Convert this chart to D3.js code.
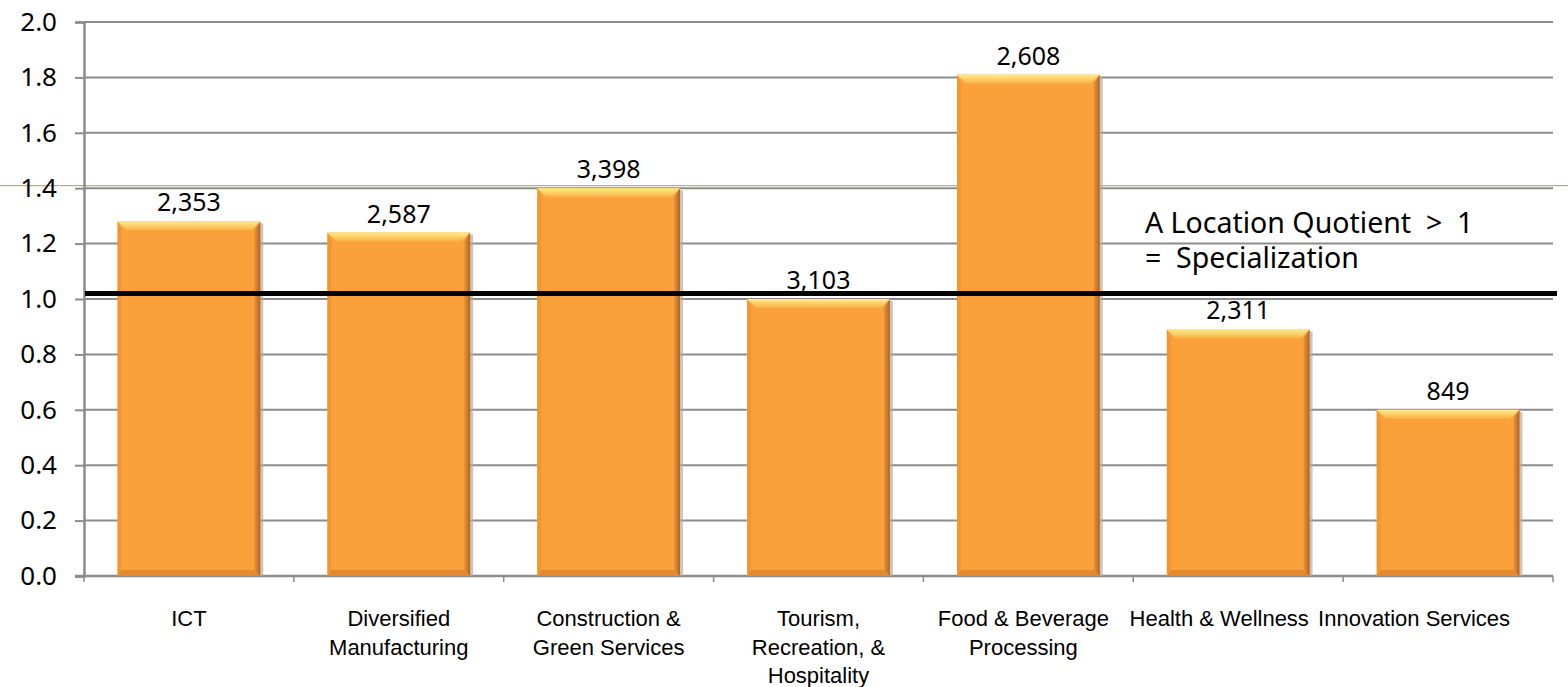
<!DOCTYPE html>
<html>
<head>
<meta charset="utf-8">
<script src="https://cdn.jsdelivr.net/npm/d3@7"></script>
<style>
  html, body { margin: 0; padding: 0; background: #fff; }
  svg { display: block; }
</style>
</head>
<body>
<svg id="canvas" width="1568" height="687"></svg>
<script>
"use strict";

const categories = [
  ["ICT"],
  ["Diversified", "Manufacturing"],
  ["Construction &", "Green Services"],
  ["Tourism,", "Recreation, &", "Hospitality"],
  ["Food & Beverage", "Processing"],
  ["Health & Wellness"],
  ["Innovation Services"]
];
const locationQuotient = [1.28, 1.24, 1.40, 1.00, 1.81, 0.89, 0.60];
const employment = [2353, 2587, 3398, 3103, 2608, 2311, 849];
const yTicks = [0, 0.2, 0.4, 0.6, 0.8, 1.0, 1.2, 1.4, 1.6, 1.8, 2.0];
const threshold = 1.02;
const noteLines = ["A Location Quotient  >  1", "=  Specialization"];

const width = 1568;
const margin = { top: 22, right: 15, bottom: 111, left: 84 };
const plotBottom = 687 - margin.bottom;
const plotRight = width - margin.right;

const svg = d3.select("#canvas");
const defs = svg.append("defs");

const topGrad = defs.append("linearGradient")
  .attr("id", "topBevel").attr("x1", 0).attr("y1", 0).attr("x2", 0).attr("y2", 1);
topGrad.append("stop").attr("offset", "0%").attr("stop-color", "#ffec8c");
topGrad.append("stop").attr("offset", "100%").attr("stop-color", "#fbb043");

const rightGrad = defs.append("linearGradient")
  .attr("id", "rightBevel").attr("x1", 0).attr("y1", 0).attr("x2", 1).attr("y2", 0);
rightGrad.append("stop").attr("offset", "0%").attr("stop-color", "#ee9433");
rightGrad.append("stop").attr("offset", "100%").attr("stop-color", "#a9662a");

const x = d3.scaleBand()
  .domain(d3.range(categories.length))
  .range([margin.left, plotRight])
  .paddingInner(0.32)
  .paddingOuter(0.16);

const y = d3.scaleLinear()
  .domain([0, 2])
  .range([plotBottom, margin.top]);

// gridlines
svg.append("g")
  .selectAll("line")
  .data(yTicks.filter((t) => t > 0))
  .join("line")
  .attr("x1", margin.left)
  .attr("x2", plotRight)
  .attr("y1", (t) => y(t))
  .attr("y2", (t) => y(t))
  .attr("stroke", "#8c8c8c")
  .attr("stroke-width", 2);

// thin olive rule across the page
svg.append("line")
  .attr("x1", 0).attr("x2", width)
  .attr("y1", y(1.4) - 2.5).attr("y2", y(1.4) - 2.5)
  .attr("stroke", "#a99b6c")
  .attr("stroke-width", 1);

// y axis
const yAxis = svg.append("g")
  .attr("transform", `translate(${margin.left},0)`)
  .call(d3.axisLeft(y).tickValues(yTicks).tickFormat(d3.format(".1f")).tickSize(9).tickPadding(18));
yAxis.select(".domain").attr("stroke", "#8c8c8c").attr("stroke-width", 2.5);
yAxis.selectAll(".tick line").attr("stroke", "#8c8c8c").attr("stroke-width", 2);
yAxis.selectAll(".tick text")
  .attr("fill", "#000")
  .style("font-family", "'Noto Sans', sans-serif")
  .style("font-size", "26px");

// x axis line and ticks at band boundaries
const step = x.step();
const bounds = d3.range(categories.length + 1).map((i) => margin.left + i * step);
svg.append("line")
  .attr("x1", margin.left - 9).attr("x2", plotRight)
  .attr("y1", plotBottom).attr("y2", plotBottom)
  .attr("stroke", "#8c8c8c").attr("stroke-width", 2.5);
svg.append("g")
  .selectAll("line")
  .data(bounds)
  .join("line")
  .attr("x1", (d) => d).attr("x2", (d) => d)
  .attr("y1", plotBottom).attr("y2", plotBottom + 6)
  .attr("stroke", "#8c8c8c").attr("stroke-width", 1.5);

// bars
const bw = x.bandwidth();
const bev = 9;
const side = 6;
const bars = svg.append("g")
  .selectAll("g")
  .data(locationQuotient)
  .join("g")
  .attr("transform", (d, i) => `translate(${x(i)},${y(d)})`);

bars.append("rect")
  .attr("x", 3).attr("y", 2)
  .attr("width", bw).attr("height", (d) => plotBottom - y(d) - 2)
  .attr("fill", "#b9ab9b").attr("opacity", 0.7);

bars.append("rect")
  .attr("width", bw)
  .attr("height", (d) => plotBottom - y(d))
  .attr("fill", "#faa13c");

bars.append("polygon")
  .attr("points", (d) => {
    const h = plotBottom - y(d);
    return `0,0 ${side - 2},${bev} ${side - 2},${h - side} 0,${h}`;
  })
  .attr("fill", "#f4962f");

bars.append("polygon")
  .attr("points", (d) => {
    const h = plotBottom - y(d);
    return `0,${h} ${bw},${h} ${bw - side},${h - side} ${side - 2},${h - side}`;
  })
  .attr("fill", "#e3892f");

bars.append("polygon")
  .attr("points", (d) => {
    const h = plotBottom - y(d);
    return `${bw},0 ${bw},${h} ${bw - side},${h - side} ${bw - side},${bev}`;
  })
  .attr("fill", "url(#rightBevel)");

bars.append("polygon")
  .attr("points", `0,0 ${bw},0 ${bw - bev},${bev} ${bev},${bev}`)
  .attr("fill", "url(#topBevel)");

// value labels
svg.append("g")
  .selectAll("text")
  .data(employment)
  .join("text")
  .attr("x", (d, i) => x(i) + bw / 2)
  .attr("y", (d, i) => y(locationQuotient[i]) - 10)
  .attr("text-anchor", "middle")
  .style("font-family", "'Noto Sans', sans-serif")
  .style("font-size", "25px")
  .text((d) => d3.format(",")(d));

// category labels
const labelShift = [0, 0, 0, 0, -5, -19, -34];
const catText = svg.append("g")
  .selectAll("text")
  .data(categories)
  .join("text")
  .attr("x", (d, i) => x(i) + bw / 2 + labelShift[i])
  .attr("y", 626)
  .attr("text-anchor", "middle")
  .style("font-family", "'Liberation Sans', Arial, sans-serif")
  .style("font-size", "22px")
  .attr("fill", "#000");
catText.selectAll("tspan")
  .data((d) => d)
  .join("tspan")
  .attr("x", function () { return d3.select(this.parentNode).attr("x"); })
  .attr("dy", (d, j) => (j === 0 ? 0 : 28.5))
  .text((d) => d);

// threshold line
svg.append("line")
  .attr("x1", margin.left + 1).attr("x2", plotRight + 4)
  .attr("y1", y(threshold)).attr("y2", y(threshold))
  .attr("stroke", "#000")
  .attr("stroke-width", 5);

// note
svg.append("text")
  .attr("x", 1145)
  .attr("y", 233)
  .style("font-family", "'Noto Sans', sans-serif")
  .style("font-size", "28.5px")
  .style("white-space", "pre")
  .selectAll("tspan")
  .data(noteLines)
  .join("tspan")
  .attr("x", 1145)
  .attr("dy", (d, j) => (j === 0 ? 0 : 35))
  .text((d) => d);
</script>
</body>
</html>
